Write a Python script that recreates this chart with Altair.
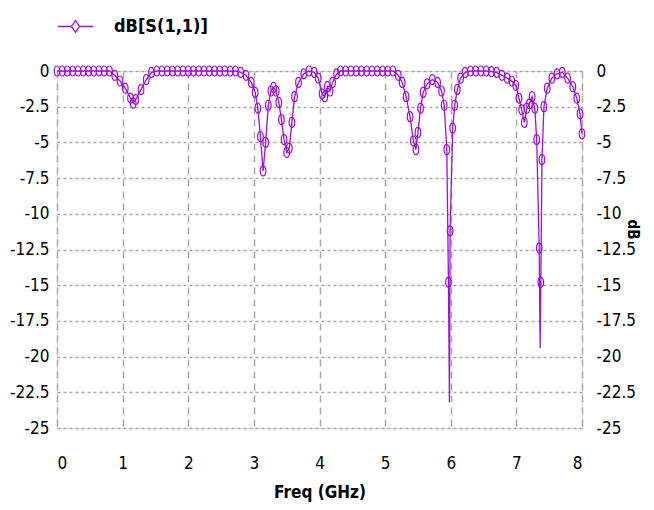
import altair as alt
import pandas as pd

# Frequency sweep points (GHz)
freq = [0.00, 0.08, 0.16, 0.24, 0.32, 0.40, 0.48, 0.56, 0.64, 0.72, 0.80,
        0.88, 0.96, 1.04, 1.12, 1.16, 1.20, 1.28, 1.36, 1.44,
        1.52, 1.60, 1.68, 1.76, 1.84, 1.92, 2.00, 2.08, 2.16, 2.24, 2.32, 2.40, 2.48, 2.56, 2.64, 2.72,
        2.80, 2.88, 2.96, 3.02, 3.06, 3.10, 3.14, 3.18, 3.22, 3.26, 3.30, 3.34, 3.38, 3.42, 3.46, 3.50,
        3.54, 3.58, 3.62, 3.68, 3.76, 3.84, 3.92, 3.98, 4.04, 4.08, 4.12, 4.16, 4.20, 4.26, 4.32,
        4.40, 4.48, 4.56, 4.64, 4.72, 4.80, 4.88, 4.96, 5.04, 5.12,
        5.20, 5.26, 5.32, 5.38, 5.43, 5.47, 5.50, 5.54, 5.58, 5.64, 5.72, 5.80, 5.86, 5.90, 5.94,
        5.965, 5.98, 5.99, 6.03, 6.06, 6.10, 6.15, 6.22, 6.30, 6.38, 6.46, 6.54, 6.62, 6.70, 6.78,
        6.86, 6.93, 6.99, 7.04, 7.08, 7.12, 7.16, 7.20, 7.24, 7.28, 7.31, 7.348, 7.362, 7.373, 7.39,
        7.42, 7.47, 7.54, 7.62, 7.70, 7.78, 7.86, 7.92, 7.97, 8.00]

s11_db = [0, 0, 0, 0, 0, 0, 0, 0, 0, 0, 0,
          -0.3, -0.7, -1.2, -1.9, -2.25, -2.0, -1.3, -0.6, -0.1,
          0, 0, 0, 0, 0, 0, 0, 0, 0, 0, 0, 0, 0, 0, 0, 0,
          -0.1, -0.3, -0.8, -1.5, -2.6, -4.6, -7.0, -5.0, -2.4, -1.4, -1.15, -1.4, -2.2, -3.4, -4.8, -5.7,
          -5.4, -3.6, -1.8, -0.8, -0.2, 0, -0.1, -0.5, -1.6, -1.8, -1.1, -1.4, -0.8, -0.2, 0,
          0, 0, 0, 0, 0, 0, 0, 0, 0, 0,
          -0.3, -0.8, -1.8, -3.2, -4.9, -5.5, -4.3, -2.6, -1.5, -0.9, -0.6, -0.8, -1.4, -2.4, -5.5,
          -14.8, -23.2, -11.2, -4.0, -2.4, -1.3, -0.5, -0.1, 0, 0, 0, 0, -0.05, -0.1, -0.3,
          -0.5, -0.7, -1.0, -1.9, -2.7, -3.6, -2.6, -2.3, -1.8, -2.6, -4.8, -12.4, -19.4, -14.8, -6.2,
          -2.5, -1.2, -0.5, -0.2, -0.1, -0.5, -1.1, -1.9, -3.0, -4.4]

# sweep points drawn by the line only (no marker)
no_marker = [5.98, 7.362]

series_name = "dB[S(1,1)]"
x_ticks = [0, 1, 2, 3, 4, 5, 6, 7, 8]
y_ticks = [0, -2.5, -5, -7.5, -10, -12.5, -15, -17.5, -20, -22.5, -25]

df = pd.DataFrame({"f": freq, "db": s11_db})
df["s"] = series_name
df["m"] = [0 if f in no_marker else 1 for f in freq]

PURPLE = "#9D10D8"
FONT = "Liberation Sans Narrow, DejaVu Sans Condensed, sans-serif"

x_enc = alt.X("f:Q", scale=alt.Scale(domain=[0, 8], nice=False, zero=False),
              axis=alt.Axis(values=x_ticks, title="Freq (GHz)", ticks=False, domain=False,
                            grid=True, gridDash=[7, 5], gridColor="#A8A8A8", gridWidth=1.5,
                            labelPadding=27, labelFontSize=17, labelFont=FONT, labelColor="black",
                            titleFont=FONT, titleFontSize=17, titleFontWeight="bold",
                            titleColor="black", titlePadding=13, labelExpr="'' + datum.value"))

y_scale = alt.Scale(domain=[-25, 0], nice=False, zero=False)

legend_path = "M-1,0L-0.23,0M0.23,0L1,0M0,-0.34L0.23,0L0,0.34L-0.23,0Z"

line = alt.Chart(df).mark_line(strokeWidth=1.3).encode(
    x=x_enc,
    y=alt.Y("db:Q", scale=y_scale,
            axis=alt.Axis(values=y_ticks, title=None, ticks=False, domain=False, grid=True,
                          gridDash=[3, 3], gridColor="#A8A8A8", gridWidth=1.5,
                          labelPadding=8, labelFontSize=17, labelFont=FONT, labelColor="black",
                          labelExpr="'' + datum.value")),
    color=alt.Color("s:N", scale=alt.Scale(range=[PURPLE]),
                    legend=alt.Legend(orient="none", legendX=0, legendY=-63, title=None,
                                      symbolType=legend_path, symbolSize=1225,
                                      symbolStrokeWidth=1.3, symbolFillColor="white",
                                      labelFont=FONT, labelFontSize=18, labelFontWeight="bold",
                                      labelColor="black", labelOffset=20, padding=0)),
)

oval = "M0,-1C0.75,-1 0.75,1 0,1C-0.75,1 -0.75,-1 0,-1Z"
points = alt.Chart(df).transform_filter("datum.m == 1").mark_point(
    shape=oval, size=100, filled=False, stroke=PURPLE, strokeWidth=1.2, opacity=1
).encode(
    x=x_enc,
    y=alt.Y("db:Q", scale=y_scale,
            axis=alt.Axis(orient="right", values=y_ticks, title="dB", ticks=False, domain=False,
                          grid=False, labelPadding=14, labelFontSize=17, labelFont=FONT,
                          labelColor="black", labelExpr="'' + datum.value",
                          titleFont=FONT, titleFontSize=15, titleFontWeight="bold",
                          titleColor="black", titleAngle=90, titleX=50, titleY=158,
                          titleAlign="center", titleBaseline="middle")),
)

chart = alt.layer(line, points).resolve_axis(y="independent").properties(
    width=525, height=357,
    autosize=alt.AutoSizeParams(type="none"),
    padding={"left": 49, "top": 63, "right": 64, "bottom": 76},
).configure_view(stroke="#333333", strokeWidth=2).configure(background="white")

chart.save("out.html", embed_options={"renderer": "svg", "actions": False})
